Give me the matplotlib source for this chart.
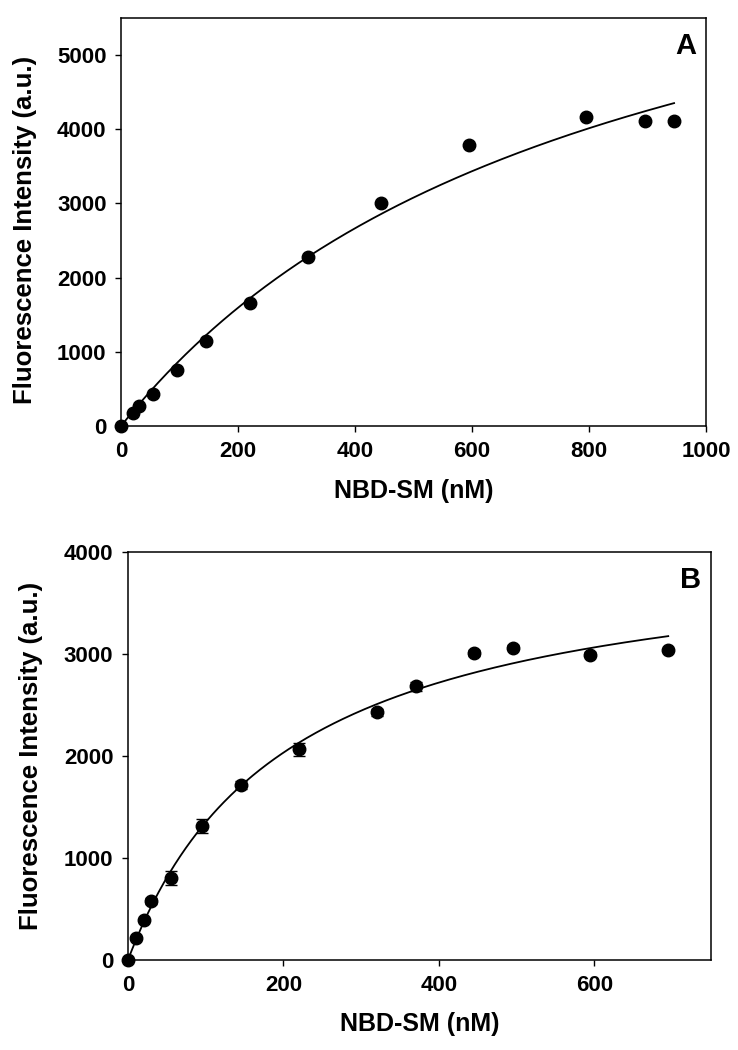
import numpy as np
import matplotlib
matplotlib.use('Agg')
import matplotlib.pyplot as plt

plt.rcParams['font.family'] = ['Liberation Sans', 'DejaVu Sans']
plt.rcParams['font.weight'] = 'bold'

# panel A data
xa = [0, 20, 30, 55, 95, 145, 220, 320, 445, 595, 795, 895, 945]
ya = [0, 170, 270, 430, 750, 1140, 1660, 2280, 3010, 3790, 4165, 4110, 4110]
# hyperbolic fit parameters (Bmax, Kd) for panel A
fit_a = (8124, 819)

# panel B data
xb = [0, 10, 20, 30, 55, 95, 145, 220, 320, 370, 445, 495, 595, 695]
yb = [0, 215, 395, 580, 805, 1315, 1715, 2065, 2430, 2685, 3010, 3060, 2995, 3035]
eb = [0, 20, 20, 30, 65, 65, 40, 65, 35, 45, 30, 25, 25, 20]
fit_b = (4107, 204)

fig = plt.figure(figsize=(7.38, 10.5), dpi=100)
ax1 = fig.add_axes([0.164, 0.5943, 0.793, 0.3886])
ax2 = fig.add_axes([0.1734, 0.0857, 0.790, 0.3886])


def style(ax, xmax, ymax, xticks, yticks, letter, xlab_y, ylab_x, ylab_y):
    ax.set_xlim(0, xmax)
    ax.set_ylim(0, ymax)
    ax.set_xticks(xticks)
    ax.set_yticks(yticks)
    ax.tick_params(direction='out', length=4.5, width=1, labelsize=16, pad=6,
                   top=False, right=False)
    for lab in ax.get_xticklabels() + ax.get_yticklabels():
        lab.set_fontweight('bold')
    for s in ax.spines.values():
        s.set_linewidth(1.1)
    ax.set_xlabel('NBD-SM (nM)', fontsize=18, fontweight='bold')
    ax.set_ylabel('Fluorescence Intensity (a.u.)', fontsize=18.5, fontweight='bold')
    ax.xaxis.set_label_coords(0.5, xlab_y)
    ax.yaxis.set_label_coords(ylab_x, ylab_y)
    ax.text(0.983, 0.965, letter, transform=ax.transAxes, ha='right', va='top',
            fontsize=21, fontweight='bold')


# A
xx = np.linspace(0, xa[-1], 300)
ax1.plot(xx, fit_a[0] * xx / (fit_a[1] + xx), color='black', lw=1.3)
ax1.plot(xa, ya, 'o', color='black', ms=9, clip_on=False, zorder=3)
style(ax1, 1000, 5500, range(0, 1001, 200), range(0, 5001, 1000), 'A',
      -0.13, -0.1436, 0.48)

# B
xx = np.linspace(0, xb[-1], 300)
ax2.plot(xx, fit_b[0] * xx / (fit_b[1] + xx), color='black', lw=1.3)
ax2.errorbar(xb, yb, yerr=eb, fmt='o', color='black', ms=9, capsize=4,
             elinewidth=1, capthick=1, clip_on=False, zorder=3)
style(ax2, 750, 4000, range(0, 601, 200), range(0, 4001, 1000), 'B',
      -0.128, -0.1458, 0.5)

fig.savefig('out.png', dpi=100)
